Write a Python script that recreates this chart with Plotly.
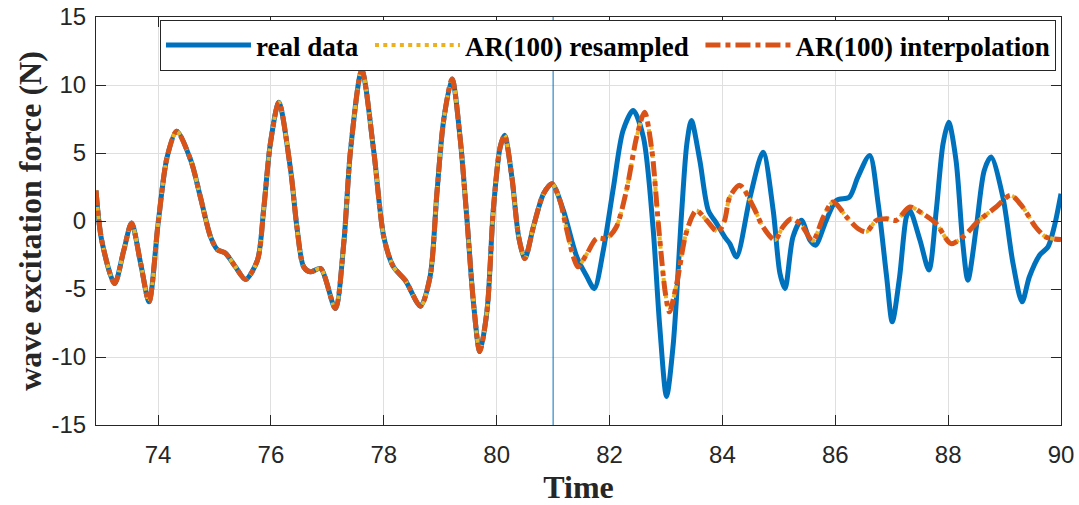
import plotly.graph_objects as go

# ---- data ----
common_time = [72.90, 73.00, 73.23, 73.39, 73.53, 73.69, 73.84, 74.00, 74.16, 74.33,
               74.58, 74.75, 74.93, 75.05, 75.19, 75.37, 75.55, 75.76, 75.87, 75.99,
               76.14, 76.35, 76.46, 76.58, 76.70, 76.88, 77.14, 77.29, 77.41, 77.61,
               77.82, 78.00, 78.17, 78.38, 78.65, 78.82, 78.94, 79.06, 79.21, 79.35,
               79.47, 79.59, 79.70, 79.83, 79.94, 80.06, 80.14, 80.27, 80.39, 80.50,
               80.65, 80.83, 80.98]
common_force = [2.25, -1.4, -4.6, -2.2, -0.15, -3.1, -5.94, -0.2, 4.7, 6.6,
                4.45, 1.76, -1.17, -2.1, -2.35, -3.37, -4.3, -2.9, 0.8, 5.7,
                8.73, 3.7, -0.44, -3.37, -3.74, -3.5, -6.43, -1.66, 5.19, 11.1,
                5.19, -1.17, -3.37, -4.35, -6.26, -4.1, 2.0, 7.4, 10.45, 6.2,
                0.3, -6.06, -9.6, -6.55, 0.8, 5.4, 6.3, 3.2, -1.17, -2.76,
                -0.44, 2.0, 2.74]

real_time_after = [81.18, 81.42, 81.60, 81.73, 81.89, 82.07, 82.24, 82.42, 82.60, 82.77,
                   82.89, 83.01, 83.13, 83.28, 83.37, 83.45, 83.60, 83.75, 83.90, 84.04,
                   84.13, 84.25, 84.49, 84.72, 84.90, 85.02, 85.11, 85.25, 85.40, 85.55,
                   85.65, 85.84, 86.02, 86.25, 86.40, 86.61, 86.76, 86.91, 87.01, 87.14,
                   87.26, 87.32, 87.50, 87.66, 87.79, 87.91, 88.01, 88.14, 88.26, 88.35,
                   88.50, 88.64, 88.76, 88.97, 89.15, 89.31, 89.44, 89.62, 89.77, 89.88,
                   90.00]
real_force_after = [0.8, -2.64, -4.1, -4.96, -2.15, 2.5, 6.65, 8.12, 6.16, -0.44,
                    -7.78, -12.9, -9.0, 0.78, 5.68, 7.39, 4.45, 0.78, -0.2, -1.17,
                    -1.66, -2.64, 1.76, 5.06, 0.78, -3.86, -4.96, -1.17, 0.05, -1.4,
                    -1.78, 0.05, 1.52, 1.76, 3.23, 4.82, 1.28, -4.1, -7.41, -4.1,
                    0.3, 0.78, -1.4, -3.6, 0.78, 5.68, 7.26, 4.45, -1.66, -4.35,
                    -0.44, 3.72, 4.7, 1.76, -3.13, -5.94, -4.1, -2.52, -1.9, -0.44,
                    2.0]

ar_time_after = [81.12, 81.23, 81.36, 81.44, 81.60, 81.77, 81.95, 82.12, 82.30, 82.48,
                 82.62, 82.75, 82.87, 82.99, 83.06, 83.19, 83.34, 83.46, 83.54, 83.72,
                 83.87, 83.93, 84.04, 84.13, 84.31, 84.55, 84.72, 84.93, 85.07, 85.22,
                 85.40, 85.60, 85.79, 85.96, 86.20, 86.40, 86.55, 86.73, 86.91, 87.08,
                 87.32, 87.55, 87.79, 88.05, 88.26, 88.55, 88.85, 89.11, 89.32, 89.55,
                 89.73, 90.00]
ar_force_after = [1.52, -0.44, -2.64, -3.37, -2.4, -1.29, -1.29, -0.44, 2.25, 6.16,
                  8.0, 5.19, -0.44, -5.33, -6.68, -4.6, -1.17, 0.3, 0.78, 0.05,
                  -0.68, -0.8, 0.05, 1.76, 2.62, 1.03, -0.44, -1.4, -0.44, 0.17,
                  -0.3, -1.45, 0.3, 1.4, 0.3, -0.55, -0.8, 0.05, 0.17, 0.05,
                  1.03, 0.54, -0.2, -1.66, -1.17, 0.05, 1.03, 1.89, 1.03, -0.44,
                  -1.17, -1.37]

split_time = 81
x_ticks = [74, 76, 78, 80, 82, 84, 86, 88, 90]
y_ticks = [-15, -10, -5, 0, 5, 10, 15]
y_tick_text = ["-15", "-10", "-5", "0", "5", "10", "15"]
series_names = ["real data", "AR(100) resampled", "AR(100) interpolation"]

real_time = common_time + real_time_after
real_force = common_force + real_force_after
ar_time = common_time + ar_time_after
ar_force = common_force + ar_force_after
# resampled and interpolation forecasts coincide in the picture
resampled_time = ar_time
resampled_force = ar_force

BLUE = "#0072BD"
YELLOW = "#EDB120"
ORANGE = "#D95319"
INK = "#262626"
NBSP = "\u00a0"

fig = go.Figure()
fig.add_trace(go.Scatter(x=[split_time, split_time], y=[y_ticks[0], y_ticks[-1]],
                         mode="lines", line=dict(color=BLUE, width=1),
                         showlegend=False, hoverinfo="skip"))
fig.add_trace(go.Scatter(x=real_time, y=real_force, mode="lines", name=series_names[0] + NBSP,
                         line=dict(color=BLUE, width=5, shape="spline", smoothing=0.8)))
fig.add_trace(go.Scatter(x=resampled_time, y=resampled_force, mode="lines", name=series_names[1] + NBSP,
                         line=dict(color=YELLOW, width=4, dash="4px,4.3px", shape="spline", smoothing=0.8)))
fig.add_trace(go.Scatter(x=ar_time, y=ar_force, mode="lines", name=series_names[2],
                         line=dict(color=ORANGE, width=5, dash="15px,5px,5px,5px", shape="spline", smoothing=0.8)))

axis_common = dict(
    showline=True, linecolor=INK, linewidth=1, mirror="ticks",
    ticks="inside", ticklen=10, tickcolor=INK, tickwidth=1,
    showgrid=True, gridcolor="#dfdfdf", gridwidth=1, zeroline=False,
    automargin=False, ticklabeloverflow="allow",
    tickfont=dict(family="Liberation Sans, Arial, sans-serif", size=24, color=INK),
)

fig.update_xaxes(range=[72.9, 90], tickvals=x_ticks, ticklabelstandoff=8, **axis_common,
                 title=dict(text="Time", font=dict(family="Liberation Serif, Times New Roman, serif",
                                                   size=32, color=INK, weight="bold"), standoff=9))
fig.update_yaxes(range=[-15, 15], tickvals=y_ticks, ticktext=y_tick_text, ticklabelstandoff=4,
                 **axis_common,
                 title=dict(text="wave excitation force (N)",
                            font=dict(family="Liberation Serif, Times New Roman, serif",
                                      size=32, color=INK, weight="bold"), standoff=0))

fig.update_layout(
    width=1079, height=505,
    margin=dict(l=96, r=18, t=17, b=80),
    paper_bgcolor="white", plot_bgcolor="white",
    legend=dict(orientation="h", x=0.9948, xanchor="right", y=0.9926, yanchor="top",
                bgcolor="white", bordercolor=INK, borderwidth=1,
                font=dict(family="Liberation Serif, Times New Roman, serif", size=27,
                          color="black", weight="bold"),
                itemwidth=85, tracegroupgap=0),
)

# remove the default page margin so the figure fills the window exactly
fig.write_html("out.html", config={"displayModeBar": False},
               post_script="document.body.style.margin='0';document.body.style.overflow='hidden';")
